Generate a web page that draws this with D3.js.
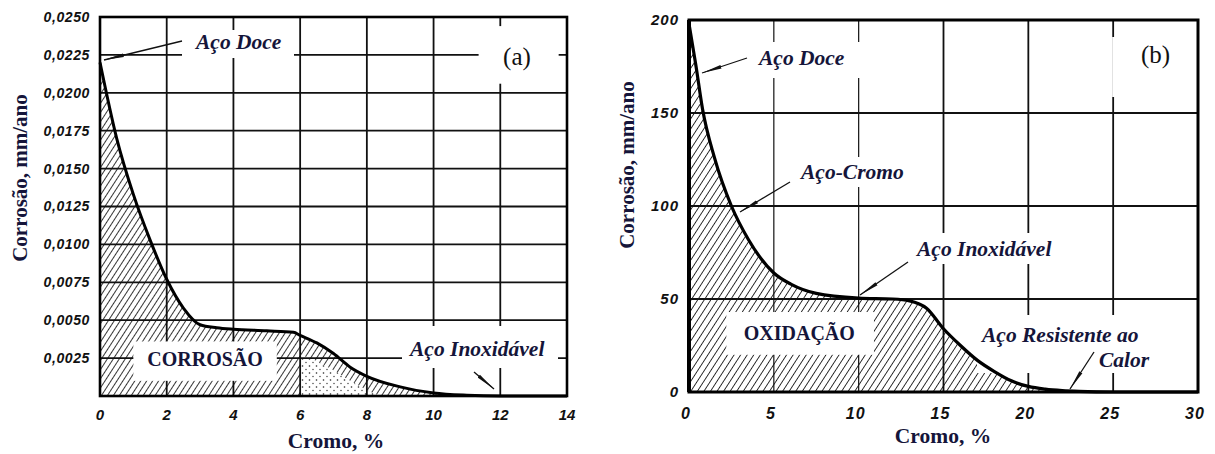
<!DOCTYPE html>
<html><head><meta charset="utf-8">
<script src="https://cdn.jsdelivr.net/npm/d3@7"></script>
<style>body{margin:0;background:#fff}svg{display:block}</style>
</head><body>
<svg id="c" width="1215" height="454"></svg>
<script>
// ---- data ----
const leftXTicks = [0,2,4,6,8,10,12,14];
const leftYTicks = [0,0.0025,0.005,0.0075,0.01,0.0125,0.015,0.0175,0.02,0.0225,0.025];
const leftYTickLabels = ["","0,0025","0,0050","0,0075","0,0100","0,0125","0,0150","0,0175","0,0200","0,0225","0,0250"];
const leftCromo = [0,0.5,1,1.5,2,2.5,3,3.5,4,5,5.8,6,6.5,7,7.5,8,9,10,11,12,14];
const leftCorrosao = [0.0220,0.0170,0.0133,0.0103,0.0077,0.0058,0.0047,0.0045,0.0044,0.0043,0.0042,0.0040,0.0035,0.0028,0.0019,0.0013,0.0006,0.0002,0.00005,0,0];
const stippleCromo = [6,6.5,7,7.5,8,8.4];
const stippleCorrosao = [0.0027,0.0023,0.0017,0.0010,0.0004,0];

const rightXTicks = [0,5,10,15,20,25,30];
const rightYTicks = [0,50,100,150,200];
const rightCromo = [0,0.4,0.8,1.5,2.5,3.5,5,6,7.5,10,12,13,14,15,16,17,18,19,20,21,22,23,25,30];
const rightOxidacao = [198,176,152,126,100,82,64,58,53,50.5,50,49,45,34,25,17,11,6,3,1.5,0.7,0.3,0,0];

const ink = "#15153a";
const serif = "'Liberation Serif','Times New Roman',serif";
const svg = d3.select("#c");
const defs = svg.append("defs");
function hatch(id, gap){
  const p = defs.append("pattern").attr("id",id).attr("patternUnits","userSpaceOnUse")
    .attr("width",gap).attr("height",gap).attr("patternTransform","rotate(33)");
  p.append("line").attr("x1",0).attr("y1",0).attr("x2",0).attr("y2",gap).attr("stroke","#111").attr("stroke-width",1.7);
}
hatch("hatchA",5); hatch("hatchB",5.5);
const dp = defs.append("pattern").attr("id","dots").attr("patternUnits","userSpaceOnUse").attr("width",7).attr("height",7);
dp.append("rect").attr("width",7).attr("height",7).attr("fill","#fff");
dp.append("circle").attr("cx",1.5).attr("cy",2).attr("r",0.8).attr("fill","#222");
dp.append("circle").attr("cx",5).attr("cy",5.5).attr("r",0.7).attr("fill","#333");
const mk = defs.append("marker").attr("id","arr").attr("viewBox","0 0 20 6").attr("refX",20).attr("refY",3)
  .attr("markerWidth",20).attr("markerHeight",6).attr("markerUnits","userSpaceOnUse").attr("orient","auto");
mk.append("path").attr("d","M0,1.2 L20,3 L0,4.8 Z").attr("fill","#111");

function annot(g, x, y, text, bg){
  if(bg) g.append("rect").attr("x",bg[0]).attr("y",bg[1]).attr("width",bg[2]).attr("height",bg[3]).attr("fill","#fff");
  g.append("text").attr("x",x).attr("y",y)
    .attr("font-family",serif).attr("font-style","italic").attr("font-weight","bold")
    .attr("font-size",21.5).attr("fill",ink).text(text);
}
function arrow(g, x1,y1,x2,y2){
  g.append("line").attr("x1",x1).attr("y1",y1).attr("x2",x2).attr("y2",y2)
   .attr("stroke","#111").attr("stroke-width",1.3).attr("marker-end","url(#arr)");
}
const tf = "'Liberation Sans',Arial,sans-serif";

// ---------- LEFT (a) ----------
{
const x = d3.scaleLinear().domain([0,14]).range([100,567]);
const y = d3.scaleLinear().domain([0,0.025]).range([396,17]);
const g = svg.append("g");
const area = d3.area().x((d,i)=>x(leftCromo[i])).y0(y(0)).y1((d,i)=>y(leftCorrosao[i])).curve(d3.curveMonotoneX);
g.append("path").datum(leftCorrosao).attr("d",area).attr("fill","url(#hatchA)");
const sArea = d3.area().x((d,i)=>x(stippleCromo[i])).y0(y(0)).y1((d,i)=>y(stippleCorrosao[i])).curve(d3.curveMonotoneX);
g.append("path").datum(stippleCorrosao).attr("d",sArea).attr("fill","url(#dots)");
g.selectAll(".gy").data(leftYTicks.slice(1,-1)).join("line").attr("x1",x(0)).attr("x2",x(14))
  .attr("y1",d=>y(d)).attr("y2",d=>y(d)).attr("stroke","#111").attr("stroke-width",1.8);
g.selectAll(".gx").data(leftXTicks.slice(1,-1)).join("line").attr("y1",y(0)).attr("y2",y(0.025))
  .attr("x1",d=>x(d)).attr("x2",d=>x(d)).attr("stroke","#111").attr("stroke-width",1.8);
g.append("rect").attr("x",x(11.35)).attr("y",y(0.0244)).attr("width",x(13.75)-x(11.35)).attr("height",y(0.0206)-y(0.0244)).attr("fill","#fff");
g.append("rect").attr("x",x(1.0)).attr("y",y(0.0036)).attr("width",x(5.3)-x(1.0)).attr("height",y(0.001)-y(0.0036)).attr("fill","#fff");
g.append("text").attr("x",x(3.15)).attr("y",y(0.0023)).attr("text-anchor","middle").attr("dominant-baseline","middle")
  .attr("font-family",serif).attr("font-weight","bold").attr("font-size",20).attr("fill",ink).text("CORROSÃO");
g.append("text").attr("x",x(12.5)).attr("y",y(0.0222)).attr("text-anchor","middle").attr("dominant-baseline","middle")
  .attr("font-family",serif).attr("font-size",25).attr("fill","#111").text("(a)");
annot(g, 196, 49, "Aço Doce", [182,30,112,28]);
annot(g, 410, 356, "Aço Inoxidável", [402,326,156,42]);
arrow(g, 182,41, 104,60);
arrow(g, 474,372, 494,389);
const line = d3.line().x((d,i)=>x(leftCromo[i])).y(d=>y(d)).curve(d3.curveMonotoneX);
g.append("path").datum(leftCorrosao).attr("d",line).attr("fill","none").attr("stroke","#000").attr("stroke-width",3);
g.append("rect").attr("x",x(0)).attr("y",y(0.025)).attr("width",x(14)-x(0)).attr("height",y(0)-y(0.025))
  .attr("fill","none").attr("stroke","#000").attr("stroke-width",2.6);
g.selectAll(".yl").data(leftYTicks).join("text").attr("x",90).attr("y",d=>y(d)).attr("dy","0.35em")
  .attr("text-anchor","end").attr("font-family",tf).attr("font-style","italic").attr("font-weight","bold")
  .attr("font-size",14).attr("letter-spacing",0.6).attr("fill","#111").text((d,i)=>leftYTickLabels[i]);
g.selectAll(".xl").data(leftXTicks).join("text").attr("x",d=>x(d)).attr("y",420)
  .attr("text-anchor","middle").attr("font-family",tf).attr("font-style","italic").attr("font-weight","bold")
  .attr("font-size",15).attr("fill","#111").text(d=>d);
g.append("text").attr("x",336).attr("y",448).attr("text-anchor","middle").attr("font-family",serif)
  .attr("font-weight","bold").attr("font-size",21.5).attr("fill",ink).text("Cromo, %");
g.append("text").attr("transform","translate(27,178) rotate(-90)").attr("text-anchor","middle").attr("font-family",serif)
  .attr("font-weight","bold").attr("font-size",21).attr("fill",ink).text("Corrosão, mm/ano");
}

// ---------- RIGHT (b) ----------
{
const x = d3.scaleLinear().domain([0,30]).range([689,1198]);
const y = d3.scaleLinear().domain([0,200]).range([392,20]);
const g = svg.append("g");
const area = d3.area().x((d,i)=>x(rightCromo[i])).y0(y(0)).y1(d=>y(d)).curve(d3.curveMonotoneX);
g.append("path").datum(rightOxidacao).attr("d",area).attr("fill","url(#hatchB)");
g.selectAll(".gy").data(rightYTicks.slice(1,-1)).join("line").attr("x1",x(0)).attr("x2",x(30))
  .attr("y1",d=>y(d)).attr("y2",d=>y(d)).attr("stroke","#111").attr("stroke-width",2);
g.selectAll(".gx").data(rightXTicks.slice(1,-1)).join("line").attr("y1",y(0)).attr("y2",y(200))
  .attr("x1",d=>x(d)).attr("x2",d=>x(d)).attr("stroke","#111").attr("stroke-width",(d)=>d<15?1.2:1.8);
g.append("rect").attr("x",x(25)-1).attr("y",37).attr("width",x(30)-x(25)).attr("height",60).attr("fill","#fff");
g.append("rect").attr("x",x(2.2)).attr("y",y(43)).attr("width",x(10.9)-x(2.2)).attr("height",y(20)-y(43)).attr("fill","#fff");
g.append("text").attr("x",x(6.5)).attr("y",y(30.5)).attr("text-anchor","middle").attr("dominant-baseline","middle")
  .attr("font-family",serif).attr("font-weight","bold").attr("font-size",20).attr("fill",ink).text("OXIDAÇÃO");
g.append("text").attr("x",x(27.5)).attr("y",y(180)).attr("text-anchor","middle").attr("dominant-baseline","middle")
  .attr("font-family",serif).attr("font-size",25).attr("fill","#111").text("(b)");
annot(g, 759, 65, "Aço Doce", [755,42,108,36]);
annot(g, 801, 179, "Aço-Cromo", [797,157,126,30]);
annot(g, 917, 256, "Aço Inoxidável", [912,233,164,31]);
annot(g, 982, 342, "Aço Resistente ao", [977,315,190,58]);
annot(g, 1099, 367, "Calor", null);
arrow(g, 747,58, 702,73);
arrow(g, 790,182, 740,212);
arrow(g, 908,262, 860,295);
arrow(g, 1094,352, 1070,389);
const line = d3.line().x((d,i)=>x(rightCromo[i])).y(d=>y(d)).curve(d3.curveMonotoneX);
g.append("path").datum(rightOxidacao).attr("d",line).attr("fill","none").attr("stroke","#000").attr("stroke-width",3.2);
g.append("rect").attr("x",x(0)).attr("y",y(200)).attr("width",x(30)-x(0)).attr("height",y(0)-y(200))
  .attr("fill","none").attr("stroke","#000").attr("stroke-width",3);
g.append("line").attr("x1",x(0)).attr("x2",x(0)).attr("y1",y(0)).attr("y2",y(200)).attr("stroke","#000").attr("stroke-width",4);
g.selectAll(".yl").data(rightYTicks).join("text").attr("x",679).attr("y",d=>y(d)).attr("dy","0.35em")
  .attr("text-anchor","end").attr("font-family",tf).attr("font-style","italic").attr("font-weight","bold")
  .attr("font-size",15).attr("letter-spacing",1).attr("fill","#111").text(d=>d);
g.selectAll(".xl").data(rightXTicks).join("text").attr("x",d=>x(d)-3).attr("y",419)
  .attr("text-anchor","middle").attr("font-family",tf).attr("font-style","italic").attr("font-weight","bold")
  .attr("font-size",16).attr("letter-spacing",1).attr("fill","#111").text(d=>d);
g.append("text").attr("x",943).attr("y",443).attr("text-anchor","middle").attr("font-family",serif)
  .attr("font-weight","bold").attr("font-size",21.5).attr("fill",ink).text("Cromo, %");
g.append("text").attr("transform","translate(634,165) rotate(-90)").attr("text-anchor","middle").attr("font-family",serif)
  .attr("font-weight","bold").attr("font-size",21).attr("fill",ink).text("Corrosão, mm/ano");
}
</script>
</body></html>
